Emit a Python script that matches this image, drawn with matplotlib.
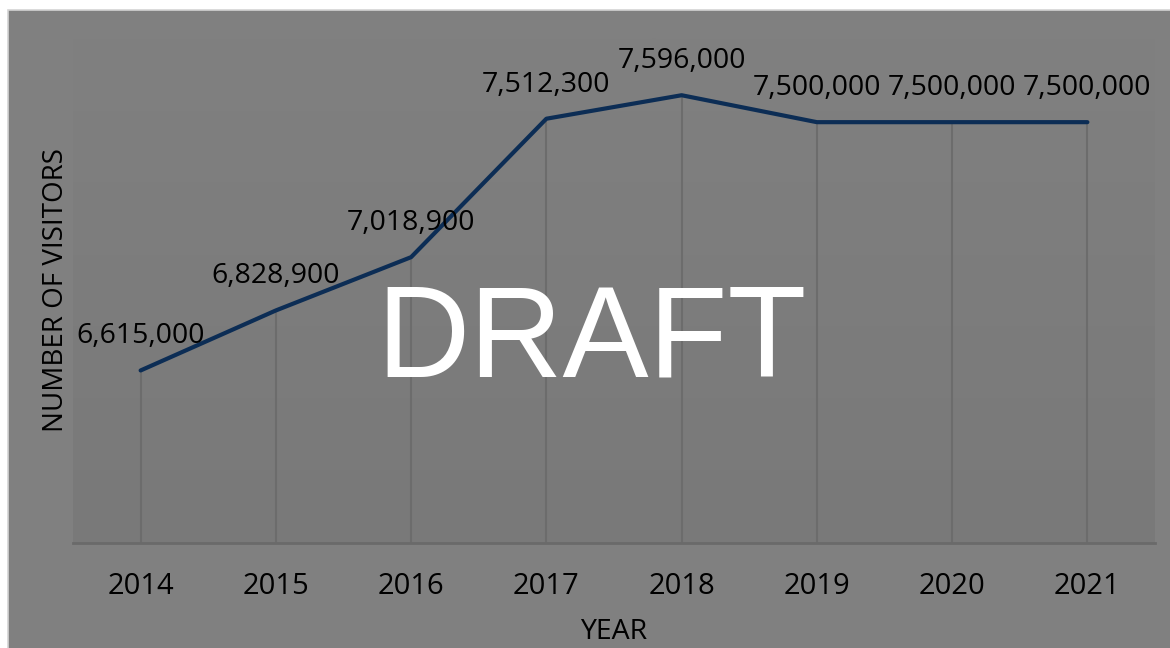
import matplotlib
matplotlib.use("Agg")
import matplotlib.pyplot as plt
import numpy as np
from matplotlib.patches import Rectangle
from matplotlib.colors import LinearSegmentedColormap

years = ["2014", "2015", "2016", "2017", "2018", "2019", "2020", "2021"]
visitors = [6615000, 6828900, 7018900, 7512300, 7596000, 7500000, 7500000, 7500000]
y_min, y_max = 6000000, 7800000

plt.rcParams['font.family'] = ['Open Sans', 'DejaVu Sans']

W, H = 1170, 648
fig = plt.figure(figsize=(W / 100, H / 100), dpi=100, facecolor="white")

# gray chart area with a thin light border (runs off the right and bottom edges)
fig.patches.append(Rectangle((8 / W, -0.05), 1.1, 1.05 - 10 / H, transform=fig.transFigure,
                             facecolor="#808080", edgecolor="#d4d4d4", linewidth=1.2, zorder=-5))

ax = fig.add_axes([73 / W, 1 - 543 / H, (1155 - 73) / W, (543 - 38) / H])
ax.set_facecolor("none")
# plot area shading: fades from the chart gray at the top to slightly darker at the bottom
shade = LinearSegmentedColormap.from_list("shade", ["#808080", "#797979"])
ax.imshow(np.linspace(0, 1, 256).reshape(-1, 1), cmap=shade, aspect="auto",
          extent=[-0.5, len(years) - 0.5, y_min, y_max], origin="upper", zorder=0)

x = list(range(len(years)))
# drop lines from each point down to the axis
ax.vlines(x, y_min, visitors, color="#6c6c6c", linewidth=1.5, zorder=1)
ax.plot(x, visitors, color="#0c2d55", linewidth=3, solid_capstyle="round", zorder=3)

for xi, v in zip(x, visitors):
    ax.annotate(f"{v:,}", (xi, v), xytext=(0, 27), textcoords="offset pixels",
                ha="center", va="baseline", fontsize=20.5, color="#000000")

ax.set_xlim(-0.5, len(years) - 0.5)
ax.set_ylim(y_min, y_max)
ax.set_xticks(x)
ax.set_xticklabels(years, fontsize=21)
ax.set_yticks([])
ax.tick_params(axis="x", length=0, pad=21)
for s in ["top", "right", "left"]:
    ax.spines[s].set_visible(False)
ax.spines["bottom"].set_color("#6a6a6a")
ax.spines["bottom"].set_linewidth(2)

ax.set_xlabel("YEAR", fontsize=20.5, labelpad=12)
ax.set_ylabel("NUMBER OF VISITORS", fontsize=20, labelpad=2)

fig.text(592 / W, 1 - 343 / H, "DRAFT", fontsize=93, color="white",
         family="Liberation Sans", ha="center", va="center", zorder=10)

fig.savefig("out.png", dpi=100, facecolor="white")
